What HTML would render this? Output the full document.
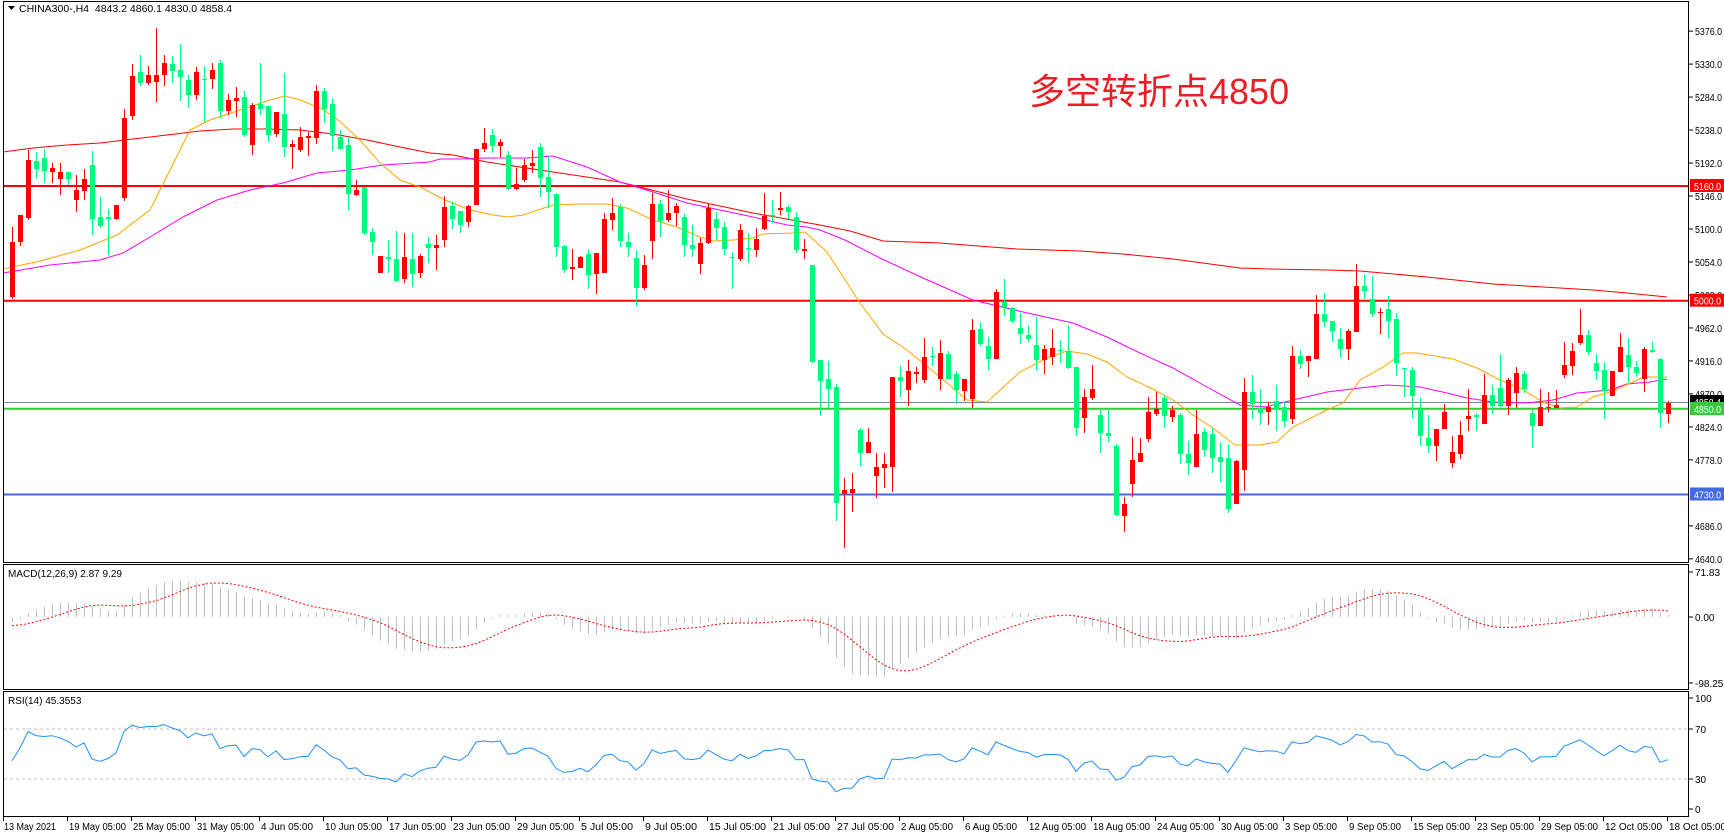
<!DOCTYPE html>
<html><head><meta charset="utf-8">
<style>
html,body{margin:0;padding:0;background:#fff;width:1724px;height:837px;overflow:hidden}
svg{display:block}
text{font-family:"Liberation Sans",sans-serif;font-size:10px;fill:#000}
</style></head>
<body>
<svg id="c" width="1724" height="837" xmlns="http://www.w3.org/2000/svg"></svg>
<script>
var D="r,242,297,227,299;r,215,242,215,246;r,160,218,150,220;g,161,169,152,178;g,158,171,149,183;r,168,172,163,183;r,172,179,163,195;g,172,179,172,185;r,190,200,175,212;r,179,191,169,200;g,165,219,151,235;g,217,226,197,228;g,217,219,209,255;r,205,219,205,220;r,118,198,109,201;r,76,116,64,120;g,72,83,55,86;r,75,83,66,85;r,75,82,28,102;r,63,75,55,86;g,64,71,56,83;g,70,77,44,101;g,80,95,75,108;r,72,95,67,100;g,79,79,66,122;r,70,79,63,89;g,63,111,60,118;r,100,111,94,115;r,98,101,87,117;g,97,135,91,137;r,105,145,103,155;g,104,109,63,115;g,106,135,106,142;r,112,134,112,137;g,114,147,73,157;r,144,147,140,169;r,137,150,127,152;r,136,138,132,156;r,91,138,85,144;g,91,109,88,123;g,104,136,98,151;g,137,149,130,149;g,145,194,137,210;r,190,195,180,196;g,187,233,187,235;g,232,242,228,255;r,256,273,256,273;g,257,259,240,273;g,259,281,231,282;r,257,279,233,283;g,259,274,233,287;r,256,273,254,278;g,244,248,237,263;r,245,248,235,270;r,207,240,196,247;g,206,219,202,229;g,211,225,211,233;r,206,222,205,227;r,149,205,149,205;r,143,149,128,152;g,135,146,129,153;r,142,146,139,157;g,155,189,151,190;r,184,189,168,190;r,165,180,159,182;r,163,166,150,173;g,147,178,143,197;g,177,192,156,208;g,194,247,194,257;g,246,270,245,273;r,267,269,249,280;r,257,268,256,268;g,254,275,249,289;r,253,274,253,294;r,219,273,213,273;r,213,220,198,230;g,207,241,204,247;g,242,247,233,257;g,258,288,250,306;r,265,288,255,290;r,204,241,193,259;g,204,221,200,237;r,213,220,190,222;r,206,213,203,226;g,217,245,214,257;g,245,249,225,257;r,243,264,238,274;r,208,243,203,244;g,219,228,212,240;g,227,249,222,255;g,257,257,252,289;r,230,259,224,261;g,248,249,233,263;r,239,250,228,257;r,216,229,193,230;g,215,215,200,223;r,208,210,192,215;g,207,212,205,219;g,217,250,212,253;r,249,251,239,259;g,265,362,265,363;g,360,381,360,416;g,379,389,361,408;g,387,503,384,521;r,490,494,478,548;r,489,493,473,512;g,430,453,428,466;r,442,453,428,453;r,467,476,453,498;r,464,468,453,488;r,377,467,377,492;g,377,381,366,397;r,371,390,360,406;r,372,374,367,383;r,357,380,338,383;g,356,357,347,366;r,353,379,340,390;g,354,379,351,379;g,374,390,371,404;r,379,391,379,401;r,330,399,319,408;g,329,344,322,346;g,346,359,337,370;r,292,359,289,359;g,302,307,279,316;g,308,321,307,323;g,328,334,313,344;g,335,339,326,342;g,345,360,317,370;r,349,360,345,374;r,348,357,329,365;g,350,350,340,363;g,351,368,326,369;g,367,428,367,436;r,397,418,389,433;r,389,398,365,400;g,415,433,409,453;g,433,436,409,442;g,446,515,444,516;r,504,516,497,532;r,460,484,437,497;r,453,462,438,462;r,412,439,397,442;r,409,414,392,416;g,398,416,396,428;r,410,417,406,422;g,415,454,413,464;g,454,463,441,475;r,434,467,410,467;g,432,450,428,457;g,434,458,428,473;g,457,462,442,482;g,458,509,444,513;r,461,504,460,504;r,392,470,378,491;g,392,404,375,419;g,408,413,389,425;r,407,412,402,425;g,401,409,385,431;g,407,421,402,427;r,356,419,346,424;g,356,364,350,369;r,356,361,356,377;r,314,359,295,359;g,314,322,293,327;g,321,331,321,342;g,339,349,328,358;r,331,349,329,360;r,286,332,264,332;g,286,291,274,299;g,299,314,276,317;r,312,313,308,334;g,309,321,296,338;g,319,363,313,376;g,368,369,368,397;g,370,396,367,418;g,409,436,398,446;g,438,446,415,453;r,429,446,429,461;r,412,429,404,429;r,452,463,436,468;r,435,454,421,459;r,416,419,389,431;g,415,417,413,431;r,395,424,374,424;g,395,406,385,414;g,388,406,354,407;r,380,406,378,415;r,373,393,367,408;g,374,389,371,393;g,413,426,410,448;r,407,426,389,426;r,407,408,392,412;r,405,408,390,408;r,365,375,342,378;r,351,366,343,375;r,335,343,309,345;g,335,352,330,355;g,363,371,354,380;g,370,391,362,419;r,371,396,371,396;r,347,372,333,372;g,355,367,338,383;g,367,373,361,377;r,349,379,347,392;g,350,352,342,353;g,359,413,358,428;r,403,414,401,423";
var bars=D.split(";").map(function(s){var a=s.split(",");return [a[0],+a[1],+a[2],+a[3],+a[4]];});
var s=[];
function L(x1,y1,x2,y2,c,w,extra){s.push('<line x1="'+x1+'" y1="'+y1+'" x2="'+x2+'" y2="'+y2+'" stroke="'+c+'" stroke-width="'+(w||1)+'"'+(extra||'')+'/>');}
function T(x,y,t,extra){s.push('<text x="'+x+'" y="'+y+'"'+(extra||'')+'>'+t+'</text>');}
function P(pts,c,w,extra){s.push('<polyline fill="none" stroke="'+c+'" stroke-width="'+(w||1)+'"'+(extra||'')+' points="'+pts+'"/>');}
var R=1689;
s.push('<defs><clipPath id="cm"><rect x="4" y="2" width="1685" height="560"/></clipPath></defs>');
s.push('<g clip-path="url(#cm)">');
L(3,186,R,186,'#ff0000',2);
L(3,300.7,R,300.7,'#ff0000',2);
L(3,402.5,R,402.5,'#778899',1);
L(3,408.7,R,408.7,'#32cd32',2);
L(3,494.5,R,494.5,'#4169e1',2);
P("3,152 33,148 67,145 100,143 133,139 167,135 200,131 233,129 267,129 300,130 333,134 367,140 400,147 430,153 453,155 487,162 553,172 620,182 687,199 753,213 820,225 850,231 883,241 940,243 1017,249 1080,251 1123,254 1173,259 1240,268 1270,269 1327,270 1360,271 1427,277 1493,284 1560,288 1593,290 1627,293 1667,297",'#ff0000',1);
P("3,273 50,265 100,260 123,253 150,237 183,217 217,200 250,190 283,183 317,173 350,170 383,165 430,162 440,159 460,159 487,158 527,158 553,156 587,167 620,182 653,192 687,203 720,210 753,217 787,225 807,227 820,230 845,240 880,258 923,278 973,300 1023,312 1073,323 1107,337 1140,353 1173,368 1207,387 1240,405 1265,407 1293,400 1327,392 1360,388 1387,385 1420,387 1447,393 1467,398 1493,402 1527,403 1553,400 1577,393 1610,390 1627,384 1650,382 1667,379",'#ff00ff',1);
P("3,269 40,261 80,250 100,242 117,235 150,210 170,170 190,130 210,120 240,110 270,100 285,96 300,100 320,108 335,117 360,140 380,163 400,180 420,187 445,200 470,210 493,215 508,217 523,215 553,205 580,204 607,204 627,208 653,220 677,227 700,237 713,241 733,240 753,238 763,234 793,233 805,232 827,252 840,272 860,303 883,334 907,350 940,377 967,400 987,402 1020,372 1047,358 1067,351 1087,354 1107,362 1127,377 1153,389 1173,400 1193,415 1213,428 1235,445 1260,445 1277,442 1293,427 1327,410 1343,403 1360,380 1383,367 1403,353 1417,353 1453,359 1477,368 1500,380 1520,388 1543,402 1560,408 1577,407 1593,397 1610,392 1633,382 1643,377 1667,377",'#ffa500',1);
bars.forEach(function(b,i){
  var x=12+8*i, c=b[0]=='r'?'#ff0000':'#00fa7a';
  L(x+0.5,b[3],x+0.5,b[4],c,1);
  var h=b[2]-b[1];
  if(h<1){L(x-2,b[1]+0.5,x+3,b[1]+0.5,c,1);}
  else s.push('<rect x="'+(x-2)+'" y="'+b[1]+'" width="5" height="'+h+'" fill="'+c+'"/>');
});
s.push('</g>');
s.push('<polygon points="8,6 15,6 11.5,10" fill="#000"/>');
T(19,12,'CHINA300-,H4&#160;&#160;4843.2 4860.1 4830.0 4858.4',' style="font-size:10.5px"');
s.push('<text x="1029" y="104" style="font-family:\'Liberation Sans\',\'Noto Sans CJK SC\',sans-serif;font-size:36px;fill:#ee1c25">多空转折点4850</text>');
s.push('<rect x="3.5" y="1.5" width="1685" height="561" fill="none" stroke="#000"/>');
s.push('<rect x="3.5" y="564.5" width="1685" height="125" fill="none" stroke="#000"/>');
s.push('<rect x="3.5" y="691.5" width="1685" height="125" fill="none" stroke="#000"/>');
function py(v){return 300.7+(5000-v)*0.717;}
[5376,5330,5284,5238,5192,5146,5100,5054,5008,4962,4916,4870,4824,4778,4686,4640].forEach(function(v){var y=py(v);L(R,y,R+4,y,'#000');T(1695,y+4,v.toFixed(1),' textLength="27" lengthAdjust="spacingAndGlyphs"');});
function box(v,bg,fg,y){s.push('<rect x="1690" y="'+(y-7)+'" width="34" height="13" fill="'+bg+'"/>');T(1694,y+4,v,' style="fill:'+fg+'" textLength="27" lengthAdjust="spacingAndGlyphs"');}
box('5160.0','#ff0000','#fff',186);
box('5000.0','#ff0000','#fff',300.7);
box('4858.4','#000','#fff',402);
box('4850.0','#32cd32','#fff',409);
box('4730.0','#4169e1','#fff',494.5);
function pr(y){return 5000-(y-300.7)/0.717;}
var cl=bars.map(function(b){return pr(b[0]=='r'?b[1]:b[2]);});
var e12=5080,e26=5088,k12=2/13,k26=2/27,mh=[-14,-14,-14,-14,-14,-14,-14,-14],mv=[],sg=[];
cl.forEach(function(p){e12+=(p-e12)*k12;e26+=(p-e26)*k26;var m=e12-e26;mh.push(m);mv.push(m);var t=mh.slice(-9);sg.push(t.reduce(function(a,b){return a+b;},0)/9);});
var z=617,ms=0.66;
mv.forEach(function(m,i){var x=12.5+8*i;L(x,z,x,z-m*ms,'#c0c0c0',1);});
P(sg.map(function(v,i){return (12+8*i)+','+(z-v*ms).toFixed(1);}).join(' '),'#ff0000',1,' stroke-dasharray="2,2"');
T(8,577,'MACD(12,26,9) 2.87 9.29');
[[71.83,572],[0,617],[-98.25,683]].forEach(function(a){L(R,a[1],R+4,a[1],'#000');T(1695,a[1]+4,a[0].toFixed(2));});
L(4,729,R,729,'#c0c0c0',1,' stroke-dasharray="3,3"');
L(4,779,R,779,'#c0c0c0',1,' stroke-dasharray="3,3"');
var ag=6,al=7.5,rp=[];
cl.forEach(function(p,i){var d=i?p-cl[i-1]:0;ag=(ag*13+Math.max(d,0))/14;al=(al*13+Math.max(-d,0))/14;var r=100-100/(1+ag/al);rp.push((12+8*i)+','+(816.5-r*1.25).toFixed(1));});
P(rp.join(' '),'#1e90ff',1);
T(8,704,'RSI(14) 45.3553');
[[100,698],[70,729],[30,779],[0,809]].forEach(function(a){L(R,a[1],R+4,a[1],'#000');T(1695,a[1]+4,a[0]);});
var dl=['13 May 2021','19 May 05:00','25 May 05:00','31 May 05:00','4 Jun 05:00','10 Jun 05:00','17 Jun 05:00','23 Jun 05:00','29 Jun 05:00','5 Jul 05:00','9 Jul 05:00','15 Jul 05:00','21 Jul 05:00','27 Jul 05:00','2 Aug 05:00','6 Aug 05:00','12 Aug 05:00','18 Aug 05:00','24 Aug 05:00','30 Aug 05:00','3 Sep 05:00','9 Sep 05:00','15 Sep 05:00','23 Sep 05:00','29 Sep 05:00','12 Oct 05:00','18 Oct 05:00'];
dl.forEach(function(t,k){var x=3+64*k;L(x+0.5,816,x+0.5,821,'#000');var w=Math.round(t.length*4.75);T(k?x+2:x+1,830,t,' textLength="'+w+'" lengthAdjust="spacingAndGlyphs"');});
document.getElementById('c').innerHTML=s.join('');
</script>
</body></html>
